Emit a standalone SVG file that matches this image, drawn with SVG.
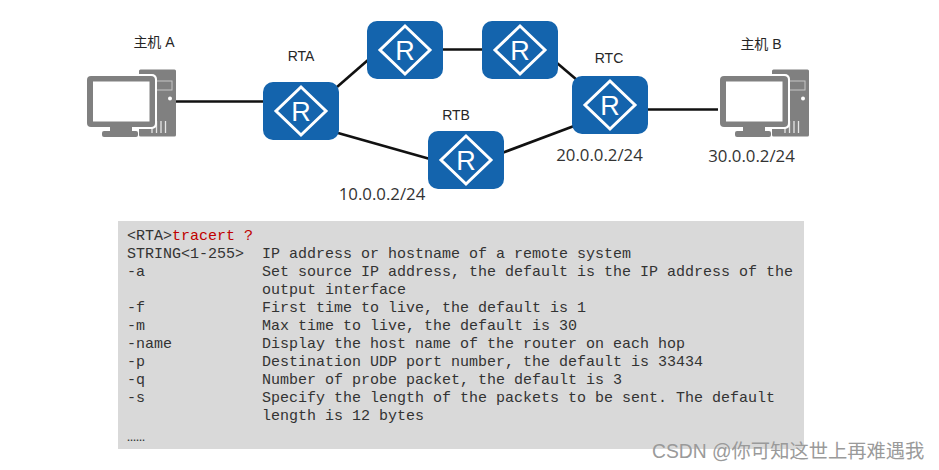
<svg xmlns="http://www.w3.org/2000/svg" xmlns:xlink="http://www.w3.org/1999/xlink" width="939" height="470" viewBox="0 0 939 470">
<style>
.lbl{font-family:"Liberation Sans","Noto Sans CJK SC",sans-serif;font-size:14px;fill:#262626;text-anchor:middle}
.ip{font-family:"Open Sans","Liberation Sans",sans-serif;font-size:16.8px;fill:#333;text-anchor:middle}
.m{font-family:"Liberation Mono",monospace;font-size:15px;fill:#333;white-space:pre}
.link{stroke:#111;stroke-width:2.6;fill:none}
.box{fill:#1464ad}
.dia{fill:none;stroke:#fff;stroke-width:3}
.rl{font-family:"Liberation Sans",sans-serif;font-size:27px;fill:#fff;text-anchor:middle}
.g{fill:#808080}
.wm{font-family:"Liberation Sans","Noto Sans CJK SC",sans-serif;font-size:19.3px;fill:#9a9a9a}
</style>
<defs>
<g id="router">
<rect class="box" x="-38" y="-29" width="76" height="58" rx="10"/>
<polygon class="dia" points="0,-24 25,0 0,24 -25,0"/>
<text class="rl" x="0" y="10">R</text>
</g>
<g id="pc">
<rect class="g" x="139" y="69.500" width="37" height="67" rx="1.500"/>
<rect x="155" y="81" width="17" height="9" fill="none" stroke="#fff" stroke-opacity=".55" stroke-width="1"/>
<circle cx="170" cy="98.500" r="2" fill="#fff"/>
<path d="M152 121v12M156.500 121v12M161 121v12M165.500 121v12" stroke="#fff" stroke-opacity=".8" stroke-width="1.300"/>
<rect x="85" y="74" width="72" height="55" rx="5" fill="#fff"/>
<rect class="g" x="87" y="76" width="68" height="51" rx="4"/>
<rect x="93" y="81.500" width="56.500" height="40" fill="#fff"/>
<rect class="g" x="110" y="127" width="22" height="5"/>
<rect class="g" x="102" y="131" width="36" height="6" rx="2"/>
</g>
</defs>
<rect width="939" height="470" fill="#fff"/>
<g id="connectors">
<line class="link" x1="175" y1="101.500" x2="264" y2="101.500"/>
<line class="link" x1="337" y1="87" x2="368" y2="60"/>
<line class="link" x1="338" y1="133" x2="430" y2="159"/>
<line class="link" x1="441" y1="49.500" x2="483" y2="49.500"/>
<line class="link" x1="557" y1="63" x2="577" y2="80"/>
<line class="link" x1="502" y1="153" x2="574" y2="126"/>
<line class="link" x1="646" y1="109.500" x2="721" y2="109.500"/>
</g>
<g id="hostA"><use xlink:href="#pc" href="#pc"/><text class="lbl" x="154" y="47">主机 A</text></g>
<g id="hostB"><use xlink:href="#pc" href="#pc" x="633"/><text class="lbl" x="761" y="49">主机 B</text><text class="ip" x="751.500" y="162">30.0.0.2/24</text></g>
<g id="RTA"><use xlink:href="#router" href="#router" x="301" y="111"/><text class="lbl" x="301" y="61">RTA</text><text class="ip" x="382" y="200">10.0.0.2/24</text></g>
<g id="R1"><use xlink:href="#router" href="#router" x="405" y="50"/></g>
<g id="R2"><use xlink:href="#router" href="#router" x="520" y="50"/></g>
<g id="RTB"><use xlink:href="#router" href="#router" x="466" y="160"/><text class="lbl" x="456" y="120">RTB</text></g>
<g id="RTC"><use xlink:href="#router" href="#router" x="610" y="105"/><text class="lbl" x="609" y="63">RTC</text><text class="ip" x="599.500" y="161">20.0.0.2/24</text></g>
<g id="console">
<rect x="118" y="221" width="686" height="228" fill="#d9d9d9"/>
<text class="m" x="127" y="240">&lt;RTA&gt;<tspan fill="#c00000">tracert ?</tspan></text>
<text class="m" x="127" y="258">STRING&lt;1-255&gt;</text><text class="m" x="262" y="258">IP address or hostname of a remote system</text>
<text class="m" x="127" y="276">-a</text><text class="m" x="262" y="276">Set source IP address, the default is the IP address of the</text>
<text class="m" x="262" y="294">output interface</text>
<text class="m" x="127" y="312">-f</text><text class="m" x="262" y="312">First time to live, the default is 1</text>
<text class="m" x="127" y="330">-m</text><text class="m" x="262" y="330">Max time to live, the default is 30</text>
<text class="m" x="127" y="348">-name</text><text class="m" x="262" y="348">Display the host name of the router on each hop</text>
<text class="m" x="127" y="366">-p</text><text class="m" x="262" y="366">Destination UDP port number, the default is 33434</text>
<text class="m" x="127" y="384">-q</text><text class="m" x="262" y="384">Number of probe packet, the default is 3</text>
<text class="m" x="127" y="402">-s</text><text class="m" x="262" y="402">Specify the length of the packets to be sent. The default</text>
<text class="m" x="262" y="420">length is 12 bytes</text>
<text class="m" x="127" y="441">……</text>
</g>
<text class="wm" x="652" y="458">CSDN @你可知这世上再难遇我</text>
</svg>
